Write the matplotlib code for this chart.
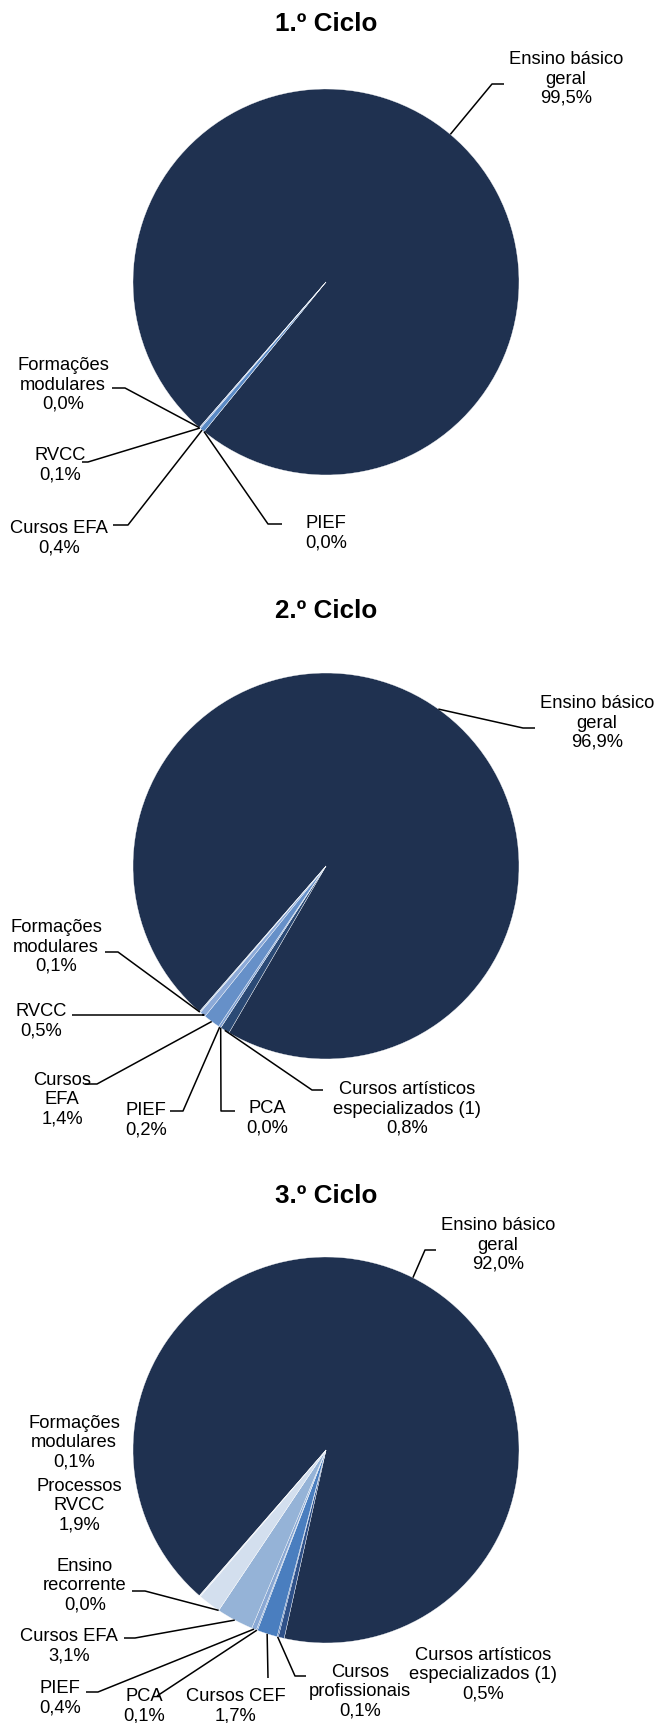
import matplotlib
matplotlib.use('Agg')
import matplotlib.pyplot as plt
import numpy as np

plt.rcParams['font.family'] = ['Liberation Sans', 'DejaVu Sans']

W, H = 659, 1724

# dados (percentagens)
ciclo1_categorias = ['Ensino básico\ngeral', 'PIEF', 'Cursos EFA', 'RVCC',
                     'Formações\nmodulares']
ciclo1_valores = [99.5, 0.0, 0.4, 0.1, 0.0]

ciclo2_categorias = ['Ensino básico\ngeral', 'Cursos artísticos\nespecializados (1)',
                     'PCA', 'PIEF', 'Cursos\nEFA', 'RVCC', 'Formações\nmodulares']
ciclo2_valores = [96.9, 0.8, 0.0, 0.2, 1.4, 0.5, 0.1]

ciclo3_categorias = ['Ensino básico\ngeral', 'Cursos artísticos\nespecializados (1)',
                     'Cursos\nprofissionais', 'Cursos CEF', 'PCA', 'PIEF', 'Cursos EFA',
                     'Ensino\nrecorrente', 'Processos\nRVCC', 'Formações\nmodulares']
ciclo3_valores = [92.0, 0.5, 0.1, 1.7, 0.1, 0.4, 3.1, 0.0, 1.9, 0.1]

titulos = ['1.º Ciclo', '2.º Ciclo', '3.º Ciclo']

# cores
navy = '#1F3150'
cores1 = [navy, '#4F81BD', '#5A8AC6', '#8EAADB', '#B9CDE5']
cores2 = [navy, '#2B4A75', '#4F81BD', '#7C9ED0', '#6690C8', '#8CAAD8', '#B9CDE5']
cores3 = [navy, '#2F5189', '#3C66A8', '#4A7EBF', '#7A9FD0', '#89A8D4', '#95B3D7',
          '#B8CCE4', '#D3DFEE', '#E5ECF6']

# layout em pixeis (x, y a partir do topo)
centros = [(326, 283), (326, 867), (326, 1451)]
raio = 193
titulo_y = [24, 611, 1196]
# (texto x, texto y, cotovelo x, cotovelo y, fim horizontal x) ; None = sem linha
pos1 = [(566, 79, 492, 85, 504),
        (326, 533, 268, 525, 282),
        (59, 538, 128, 526, 113),
        (60, 465, 88, 463, 82),
        (63, 385, 125, 389, 112)]
pos2 = [(597, 723, 523, 729, 535),
        (407, 1109, 312, 1091, 323),
        (267, 1118, 221, 1112, 235),
        (146, 1120, 183, 1112, 170),
        (62, 1100, 97, 1085, 85),
        (41, 1021, 204, 1016, 72),
        (56, 947, 118, 953, 105)]
pos3 = [(498, 1245, 425, 1251, 436),
        (483, 1675, None, None, None),
        (360, 1692, 295, 1677, 306),
        (236, 1706, 268, 1679, None),
        (144, 1706, 157, 1697, None),
        (60, 1698, 98, 1693, 86),
        (69, 1646, 135, 1639, 124),
        (85, 1586, 145, 1592, 132),
        (79, 1506, None, None, None),
        (74, 1443, None, None, None)]


def fy(y):
    return H - y


def pct(v):
    return ('%.1f' % v).replace('.', ',') + '%'


def desenha_pizza(ax, categorias, valores, cores, centro, posicoes, titulo, ty):
    cx, cy = centro[0], fy(centro[1])
    wedges, _ = ax.pie(valores, colors=cores, startangle=-131, counterclock=False,
                       center=(cx, cy), radius=raio,
                       wedgeprops=dict(edgecolor='white', linewidth=0.25))
    for w, cat, v, p in zip(wedges, categorias, valores, posicoes):
        tx, tyy, ex, ey, hx = p
        ax.text(tx, fy(tyy), cat + '\n' + pct(v), ha='center', va='center',
                multialignment='center', fontsize=13.2, linespacing=1.18)
        if ex is None:
            continue
        ang = np.deg2rad((w.theta1 + w.theta2) / 2)
        axp = cx + raio * np.cos(ang)
        ayp = cy + raio * np.sin(ang)
        xs = [axp, ex]
        ys = [ayp, fy(ey)]
        if hx is not None:
            xs.append(hx)
            ys.append(fy(ey))
        ax.plot(xs, ys, color='black', lw=1.1, solid_capstyle='butt')
    ax.text(centro[0], fy(ty), titulo, ha='center', va='center',
            fontsize=18.7, fontweight='bold')


fig = plt.figure(figsize=(W / 100, H / 100), dpi=100)
ax = fig.add_axes([0, 0, 1, 1])

desenha_pizza(ax, ciclo1_categorias, ciclo1_valores, cores1, centros[0], pos1,
              titulos[0], titulo_y[0])
desenha_pizza(ax, ciclo2_categorias, ciclo2_valores, cores2, centros[1], pos2,
              titulos[1], titulo_y[1])
desenha_pizza(ax, ciclo3_categorias, ciclo3_valores, cores3, centros[2], pos3,
              titulos[2], titulo_y[2])

ax.set_xlim(0, W)
ax.set_ylim(0, H)
ax.set_aspect('auto')
ax.axis('off')

fig.savefig('out.png', dpi=100)
